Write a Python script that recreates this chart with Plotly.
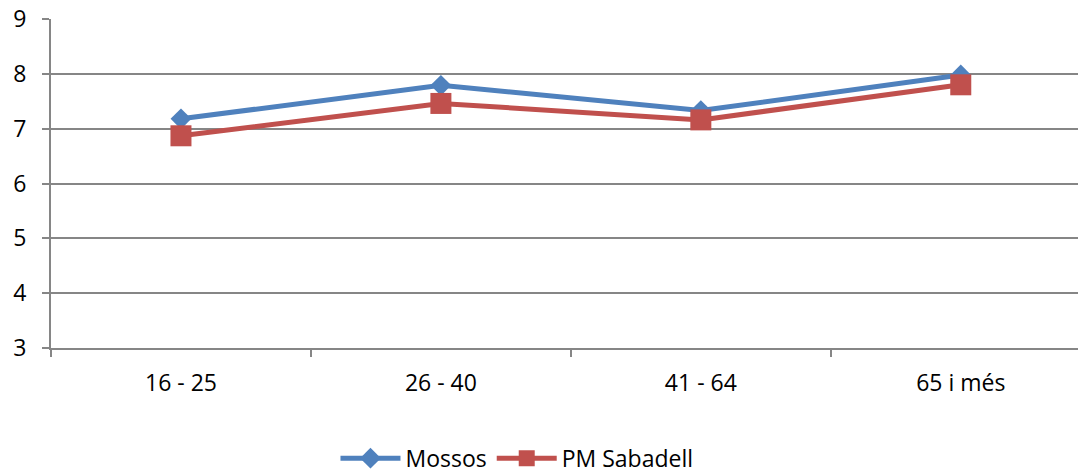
import plotly.graph_objects as go

categories = ["16 - 25", "26 - 40", "41 - 64", "65 i més"]
mossos = [7.18, 7.79, 7.33, 7.98]
pm_sabadell = [6.87, 7.46, 7.16, 7.80]

fig = go.Figure()
fig.add_trace(go.Scatter(
    x=categories, y=mossos, name="Mossos", mode="lines+markers",
    line=dict(color="#4F81BD", width=5),
    marker=dict(symbol="diamond", size=16, color="#4F81BD"),
))
fig.add_trace(go.Scatter(
    x=categories, y=pm_sabadell, name="PM Sabadell", mode="lines+markers",
    line=dict(color="#C0504D", width=5),
    marker=dict(symbol="square", size=21, color="#C0504D"),
))

font = dict(family="Open Sans", size=23, color="#000000")
fig.update_layout(
    width=1078, height=473,
    margin=dict(l=51, r=0, t=19, b=125, autoexpand=False),
    paper_bgcolor="white", plot_bgcolor="white",
    font=font,
    showlegend=True,
    legend=dict(orientation="h", x=0.277, xanchor="left", y=-0.335, yanchor="middle",
                font=font, traceorder="normal",
                itemwidth=60, tracegroupgap=0),
    xaxis=dict(type="category", range=[-0.5, 3.451], tickson="boundaries",
               ticks="outside", ticklen=7, tickcolor="#868686", tickwidth=2,
               showline=True, linecolor="#868686", linewidth=2,
               showgrid=False, ticklabelstandoff=13, zeroline=False,
               automargin=False, tickfont=font),
    yaxis=dict(range=[3, 9], dtick=1, tick0=3,
               ticks="outside", ticklen=7, tickcolor="#868686", tickwidth=2,
               showline=True, linecolor="#868686", linewidth=2,
               showgrid=True, gridcolor="#868686", gridwidth=2,
               zeroline=False, ticklabelstandoff=11, automargin=False, tickfont=font,
               ticklabeloverflow="allow"),
)

fig.write_html("out.html", config={"displayModeBar": False},
               post_script="document.body.style.margin='0px';")
